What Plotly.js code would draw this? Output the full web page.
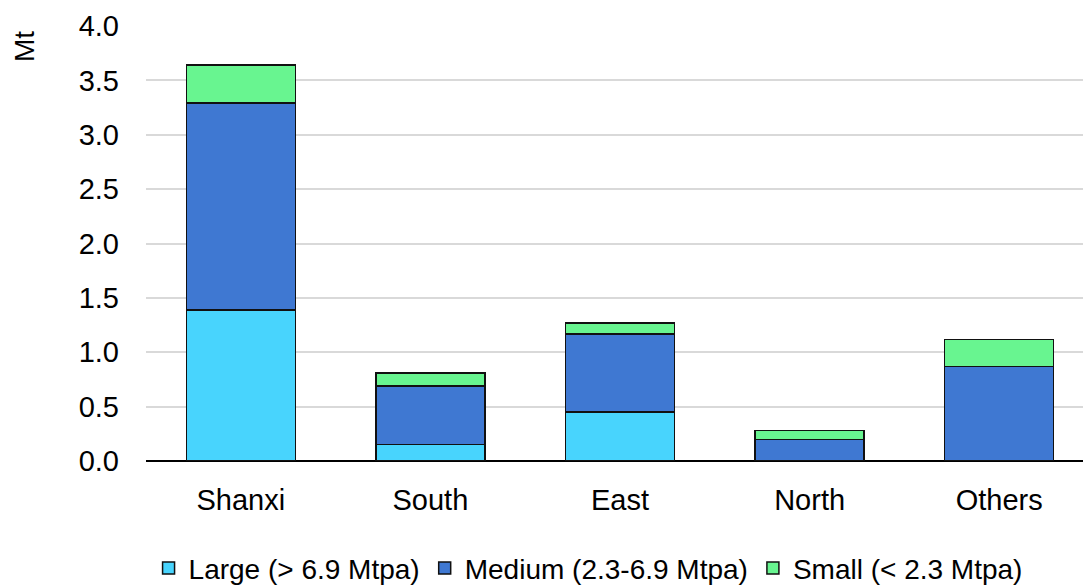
<!DOCTYPE html>
<html>
<head>
<meta charset="utf-8">
<script src="https://cdn.plot.ly/plotly-3.0.1.min.js"></script>
<style>html,body{margin:0;padding:0;background:#fff;}#chart{width:1083px;height:587px;}</style>
</head>
<body>
<div id="chart"></div>
<script>
const categories = ["Shanxi", "South", "East", "North", "Others"];
const large = [1.39, 0.15, 0.45, 0.0, 0.0];
const medium = [1.90, 0.54, 0.72, 0.20, 0.87];
const small = [0.35, 0.12, 0.10, 0.08, 0.245];
const seriesNames = ["Large (> 6.9 Mtpa)", "Medium (2.3-6.9 Mtpa)", "Small (< 2.3 Mtpa)"];
const colors = ["#48d4fd", "#3f78d2", "#68f590"];
const yTicks = [0, 0.5, 1.0, 1.5, 2.0, 2.5, 3.0, 3.5, 4.0];

const font = {family: "Liberation Sans, Arial, sans-serif", size: 29, color: "#000"};
const legendFont = {family: "Liberation Sans, Arial, sans-serif", size: 28, color: "#000"};
const data = [large, medium, small].map((vals, i) => ({
  type: "bar",
  x: categories,
  y: vals,
  name: seriesNames[i],
  marker: {color: colors[i], line: {color: "#111", width: 1.5}}
}));

const layout = {
  width: 1083, height: 587,
  margin: {l: 146, r: 0, t: 26, b: 126},
  barmode: "stack",
  bargap: 0.425,
  paper_bgcolor: "#fff", plot_bgcolor: "#fff",
  font: font,
  showlegend: true,
  legend: {orientation: "h", x: 0.543, xanchor: "center", xref: "container",
           y: 0.032, yanchor: "middle", yref: "container",
           font: legendFont, itemwidth: 30, traceorder: "normal", tracegroupgap: 0},
  xaxis: {type: "category", range: [-0.5, 4.442], showgrid: false, showline: false, ticks: "",
          tickfont: font, fixedrange: true, automargin: false, ticklabelstandoff: 19},
  yaxis: {range: [0, 4.0], tickvals: yTicks, ticktext: yTicks.map(v => v.toFixed(1)),
          showgrid: true, gridcolor: "#d9d9d9", gridwidth: 2,
          zeroline: true, zerolinecolor: "#000", zerolinewidth: 2,
          showline: false, ticks: "", tickfont: font, ticklabelstandoff: 26, automargin: false},
  annotations: [{text: "Mt", xref: "paper", yref: "paper", x: -0.129, y: 0.952,
                 xanchor: "center", yanchor: "middle", textangle: -90, showarrow: false,
                 font: {family: font.family, size: 28, color: "#000"}}]
};
Plotly.newPlot("chart", data, layout, {displayModeBar: false, staticPlot: true});
</script>
</body>
</html>
